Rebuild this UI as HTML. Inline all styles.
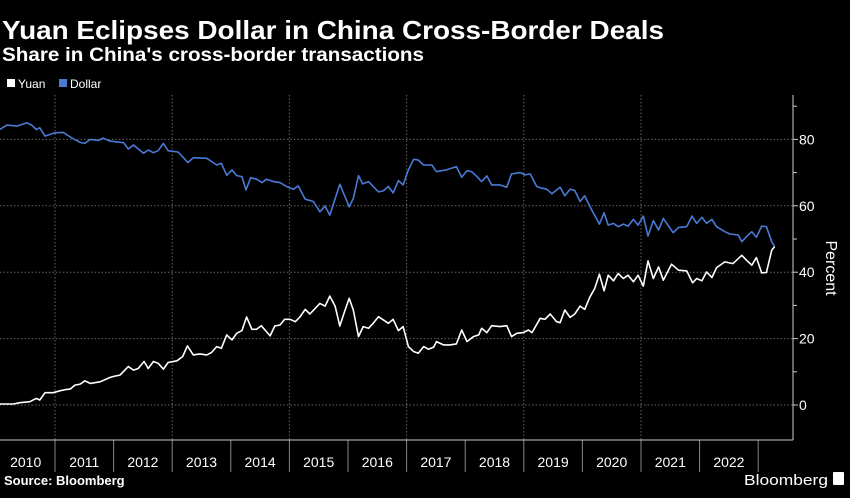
<!DOCTYPE html>
<html><head><meta charset="utf-8">
<style>
html,body{margin:0;padding:0;background:#000;}
svg{display:block;font-family:"Liberation Sans",sans-serif;}
</style></head>
<body>
<svg id="chart" width="850" height="498" viewBox="0 0 850 498" xmlns="http://www.w3.org/2000/svg">
<rect width="850" height="498" fill="#000"/>
<text x="2" y="39" fill="#fff" font-weight="bold" font-size="26" textLength="662" lengthAdjust="spacingAndGlyphs">Yuan Eclipses Dollar in China Cross-Border Deals</text>
<text x="2" y="61" fill="#fff" font-weight="bold" font-size="19" textLength="422" lengthAdjust="spacingAndGlyphs">Share in China's cross-border transactions</text>
<g>
<rect x="7" y="79" width="8" height="8" fill="#fff"/>
<text x="18" y="88" fill="#fff" font-size="12">Yuan</text>
<rect x="59" y="79" width="8" height="8" fill="#4a7ad4"/>
<text x="70" y="88" fill="#fff" font-size="12">Dollar</text>
</g>
<g id="grid"></g>
<g id="axes"></g>
<g id="series"></g>
<text transform="translate(826,268) rotate(90)" text-anchor="middle" fill="#fff" font-size="16">Percent</text>
<text x="4" y="485" fill="#fff" font-weight="bold" font-size="13">Source: Bloomberg</text>
<text x="828" y="485" text-anchor="end" fill="#fff" font-size="15" textLength="84" lengthAdjust="spacingAndGlyphs">Bloomberg</text>
<rect x="833" y="472" width="11" height="13" rx="1" fill="#fff"/>
</svg>
<script>
const yearLabels=[2010,2011,2012,2013,2014,2015,2016,2017,2018,2019,2020,2021,2022];
const yTicks=[0,20,40,60,80];
const dollarDates=[2010.06,2010.18,2010.35,2010.52,2010.60,2010.68,2010.74,2010.83,2011.00,2011.14,2011.28,2011.43,2011.51,2011.60,2011.74,2011.82,2011.94,2012.02,2012.17,2012.25,2012.34,2012.51,2012.59,2012.68,2012.76,2012.85,2012.93,2013.10,2013.27,2013.36,2013.59,2013.76,2013.84,2013.93,2014.02,2014.10,2014.19,2014.26,2014.34,2014.44,2014.53,2014.61,2014.73,2014.84,2014.95,2015.07,2015.15,2015.27,2015.41,2015.52,2015.61,2015.69,2015.86,2016.02,2016.09,2016.18,2016.25,2016.35,2016.52,2016.60,2016.69,2016.77,2016.86,2016.94,2017.03,2017.12,2017.20,2017.29,2017.43,2017.51,2017.68,2017.85,2017.94,2018.03,2018.11,2018.20,2018.28,2018.37,2018.45,2018.59,2018.71,2018.79,2018.94,2019.02,2019.11,2019.22,2019.31,2019.39,2019.48,2019.62,2019.70,2019.79,2019.87,2019.96,2020.04,2020.16,2020.29,2020.37,2020.44,2020.53,2020.61,2020.70,2020.78,2020.87,2020.95,2021.04,2021.12,2021.21,2021.30,2021.38,2021.55,2021.64,2021.78,2021.87,2021.95,2022.04,2022.12,2022.21,2022.29,2022.43,2022.52,2022.66,2022.72,2022.80,2022.89,2022.97,2023.06,2023.14,2023.23,2023.28];
const dollarValues=[83.0,84.3,84.0,85.0,84.3,83.0,83.5,81.0,82.0,82.1,80.5,79.1,78.8,80.0,79.7,80.4,79.5,79.3,79.0,77.1,78.3,75.8,76.8,76.0,76.6,78.8,76.6,76.2,73.0,74.5,74.3,72.3,72.8,69.2,70.8,69.1,68.8,64.8,68.5,68.0,67.0,68.0,67.3,67.0,65.8,65.0,66.0,62.0,61.3,58.2,59.9,57.2,66.5,59.7,62.2,69.1,66.6,67.3,64.2,64.5,65.8,63.9,67.6,66.3,70.8,74.0,73.8,72.3,72.3,70.3,70.8,71.8,68.6,70.6,70.3,68.8,67.3,69.0,66.3,66.3,65.6,69.6,70.0,69.3,69.6,65.8,65.3,65.0,63.6,65.6,63.0,65.0,64.6,61.3,63.0,58.7,54.5,57.9,54.2,54.7,53.7,54.5,53.9,55.9,54.2,56.9,50.9,55.5,52.7,56.2,51.9,53.5,53.7,56.9,54.7,56.5,54.7,55.9,53.7,52.2,51.5,51.2,49.2,50.7,52.2,50.5,53.9,53.7,49.2,47.7];
const yuanDates=[2010.06,2010.29,2010.40,2010.57,2010.68,2010.74,2010.83,2010.97,2011.09,2011.20,2011.26,2011.34,2011.43,2011.51,2011.60,2011.77,2011.94,2012.02,2012.11,2012.25,2012.34,2012.42,2012.52,2012.59,2012.68,2012.76,2012.85,2012.93,2013.08,2013.18,2013.26,2013.36,2013.47,2013.59,2013.67,2013.76,2013.84,2013.93,2014.02,2014.10,2014.19,2014.27,2014.36,2014.44,2014.52,2014.67,2014.75,2014.84,2014.92,2015.01,2015.10,2015.18,2015.27,2015.35,2015.52,2015.61,2015.69,2015.78,2015.86,2015.95,2016.02,2016.09,2016.18,2016.26,2016.35,2016.43,2016.52,2016.69,2016.77,2016.86,2016.94,2017.03,2017.12,2017.20,2017.29,2017.37,2017.46,2017.51,2017.63,2017.74,2017.85,2017.94,2018.03,2018.14,2018.23,2018.28,2018.37,2018.45,2018.59,2018.71,2018.79,2018.88,2018.99,2019.08,2019.14,2019.28,2019.36,2019.45,2019.56,2019.62,2019.70,2019.79,2019.87,2019.96,2020.04,2020.13,2020.21,2020.29,2020.37,2020.44,2020.53,2020.61,2020.70,2020.78,2020.87,2020.95,2021.04,2021.12,2021.21,2021.30,2021.38,2021.52,2021.64,2021.78,2021.88,2021.95,2022.04,2022.12,2022.21,2022.29,2022.43,2022.57,2022.72,2022.80,2022.89,2022.97,2023.06,2023.14,2023.23,2023.28];
const yuanValues=[0.3,0.3,0.7,1.0,2.0,1.5,3.7,3.7,4.3,4.7,4.8,6.0,6.3,7.3,6.5,7.0,8.3,8.7,9.0,11.6,10.5,11.0,13.1,11.0,13.1,12.6,10.8,12.8,13.3,14.6,17.8,15.1,15.4,15.1,15.8,17.6,17.1,21.1,19.6,21.6,22.4,26.5,22.8,22.8,23.9,20.8,23.8,24.1,25.8,25.8,25.1,26.5,28.8,27.4,30.6,29.8,32.8,29.8,23.8,28.6,32.1,28.6,20.6,23.6,23.1,24.6,26.6,24.6,25.8,22.4,23.6,17.6,16.1,15.6,17.6,16.8,17.4,19.1,18.1,18.1,18.4,22.6,19.1,20.6,21.1,23.1,21.8,23.9,23.6,23.9,20.6,21.6,21.8,22.6,21.8,26.1,25.8,27.4,25.1,24.8,28.6,26.4,27.4,29.8,28.8,32.6,35.1,39.4,34.4,39.1,37.4,39.6,38.1,39.1,37.1,39.1,35.8,43.4,38.1,41.6,37.6,42.4,40.6,40.4,36.8,38.1,37.4,40.1,38.4,41.4,43.1,42.6,45.1,43.6,42.1,44.4,39.8,39.9,46.6,47.7];

const NS='http://www.w3.org/2000/svg';
const X0=-3.6, YW=58.6, Y0=405, PU=3.32, RIGHT=793, TOP=95, BOTTOM=440;
function xs(d){return X0+(d-2010)*YW;}
function ys(v){return Y0-v*PU;}
function mk(tag,attrs,parent){const e=document.createElementNS(NS,tag);for(const k in attrs)e.setAttribute(k,attrs[k]);parent.appendChild(e);return e;}
const grid=document.getElementById('grid'),axes=document.getElementById('axes'),series=document.getElementById('series');

yTicks.forEach(t=>{
  const l=mk('line',{x1:0,x2:RIGHT,y1:ys(t),y2:ys(t),stroke:'#666','stroke-width':1,'stroke-dasharray':'1.5,2'},grid);
  
  
  const tk=mk('line',{x1:RIGHT,x2:RIGHT+5,y1:ys(t),y2:ys(t),stroke:'#ccc','stroke-width':1},axes);
  
  
  const tx=mk('text',{x:RIGHT+6,y:ys(t)+5,fill:'#fff','font-size':14},axes);
  tx.textContent=t;
  
  
});
for(let v=10;v<=90;v+=20){
  const m=mk('line',{x1:RIGHT,x2:RIGHT+4,y1:ys(v),y2:ys(v),stroke:'#ccc','stroke-width':1},axes);
  
  
}
yearLabels.forEach((y,i)=>{
  if(y%2===1){
    const g=mk('line',{x1:xs(y),x2:xs(y),y1:TOP,y2:BOTTOM,stroke:'#666','stroke-width':1,'stroke-dasharray':'1.5,2'},grid);
    
    
  }
  const sep=mk('line',{x1:xs(y+1),x2:xs(y+1),y1:BOTTOM,y2:BOTTOM+32,stroke:'#888','stroke-width':1},axes);
  
  
  const t=mk('text',{x:xs(y+0.5),y:467,fill:'#fff','font-size':14,'text-anchor':'middle'},axes);
  t.textContent=y;
  
  
});
const ax=mk('line',{x1:RIGHT,x2:RIGHT,y1:TOP,y2:BOTTOM,stroke:'#ccc','stroke-width':1},axes);


const bx=mk('line',{x1:0,x2:RIGHT,y1:BOTTOM,y2:BOTTOM,stroke:'#ccc','stroke-width':1},axes);



function line(dates,vals,color,name){
  const pts=dates.map((d,i)=>xs(d).toFixed(1)+','+ys(vals[i]).toFixed(1)).join(' ');
  const p=mk('polyline',{points:pts,fill:'none',stroke:color,'stroke-width':1.6,'stroke-linejoin':'round'},series);
  
  
}
line(dollarDates,dollarValues,'#4a7ad4','dollar-line');
line(yuanDates,yuanValues,'#ffffff','yuan-line');
</script>
</body></html>
